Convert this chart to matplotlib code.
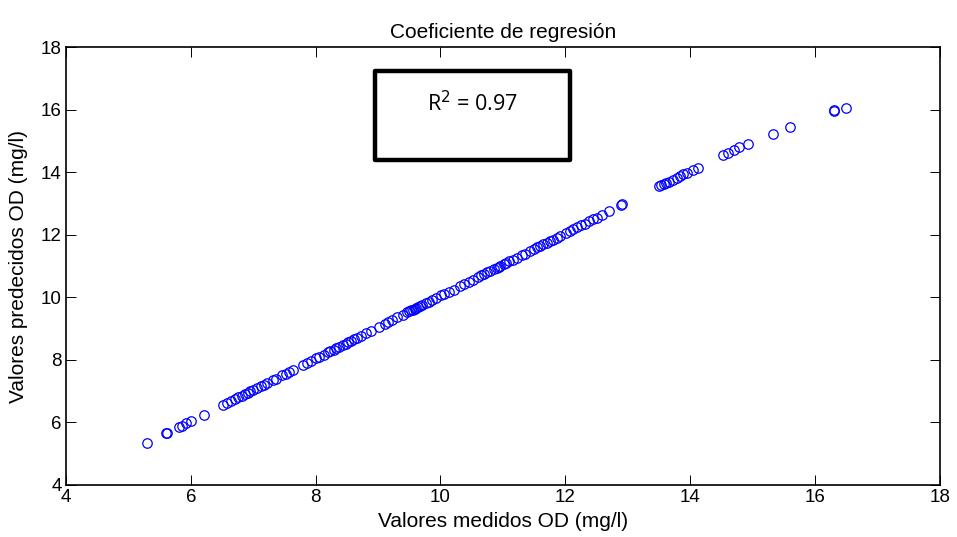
import matplotlib
matplotlib.use("Agg")
import matplotlib.pyplot as plt
from matplotlib.patches import Rectangle

plt.rcParams['font.family'] = ['Liberation Sans', 'DejaVu Sans']

medidos = [5.30, 5.60, 5.62, 5.81, 5.86, 5.92, 6.01, 6.21, 6.51, 6.58, 6.64, 6.70,
           6.76, 6.82, 6.86, 6.91, 6.95, 7.00, 7.06, 7.12, 7.17, 7.22, 7.31, 7.36,
           7.46, 7.52, 7.57, 7.63, 7.79, 7.86, 7.93, 8.01, 8.06, 8.13, 8.19, 8.23,
           8.29, 8.33, 8.38, 8.43, 8.48, 8.52, 8.56, 8.61, 8.66, 8.72, 8.81, 8.89,
           9.01, 9.11, 9.16, 9.23, 9.31, 9.40, 9.47, 9.50, 9.53, 9.56, 9.59, 9.61,
           9.64, 9.67, 9.71, 9.76, 9.81, 9.86, 9.93, 10.01, 10.06, 10.13, 10.21,
           10.31, 10.38, 10.46, 10.52, 10.60, 10.65, 10.70, 10.75, 10.80, 10.85,
           10.90, 10.93, 10.96, 11.01, 11.05, 11.10, 11.16, 11.22, 11.30, 11.36,
           11.43, 11.50, 11.55, 11.60, 11.65, 11.70, 11.75, 11.80, 11.86, 11.91,
           12.01, 12.08, 12.13, 12.19, 12.25, 12.31, 12.38, 12.45, 12.51, 12.58,
           12.70, 12.90, 12.91, 13.50, 13.54, 13.58, 13.62, 13.66, 13.72, 13.79,
           13.84, 13.89, 13.95, 14.05, 14.12, 14.52, 14.61, 14.70, 14.79, 14.92,
           15.32, 15.60, 16.30, 16.31, 16.50]
predichos = [5.33, 5.66, 5.65, 5.86, 5.90, 5.99, 6.06, 6.24, 6.56, 6.61, 6.67, 6.74,
             6.80, 6.86, 6.90, 6.94, 7.00, 7.03, 7.10, 7.16, 7.20, 7.27, 7.35, 7.40,
             7.50, 7.55, 7.60, 7.66, 7.84, 7.90, 7.97, 8.06, 8.10, 8.17, 8.24, 8.27,
             8.33, 8.38, 8.42, 8.48, 8.52, 8.57, 8.60, 8.66, 8.70, 8.77, 8.86, 8.93,
             9.06, 9.16, 9.20, 9.28, 9.36, 9.44, 9.52, 9.55, 9.58, 9.60, 9.64, 9.66,
             9.69, 9.72, 9.76, 9.81, 9.85, 9.91, 9.98, 10.06, 10.10, 10.18, 10.25,
             10.36, 10.43, 10.50, 10.57, 10.65, 10.70, 10.74, 10.80, 10.85, 10.90,
             10.95, 10.98, 11.00, 11.06, 11.10, 11.15, 11.20, 11.27, 11.35, 11.40,
             11.48, 11.55, 11.60, 11.65, 11.70, 11.74, 11.80, 11.85, 11.90, 11.96,
             12.06, 12.12, 12.18, 12.24, 12.30, 12.35, 12.43, 12.50, 12.55, 12.63,
             12.75, 12.95, 12.98, 13.55, 13.59, 13.62, 13.67, 13.70, 13.76, 13.83,
             13.88, 13.93, 13.99, 14.08, 14.14, 14.54, 14.63, 14.72, 14.80, 14.90,
             15.22, 15.46, 15.95, 15.98, 16.07]

x_ticks = [4, 6, 8, 10, 12, 14, 16, 18]
y_ticks = [4, 6, 8, 10, 12, 14, 16, 18]

fig = plt.figure(figsize=(9.57, 5.37), dpi=100)
ax = fig.add_axes([0.069, 0.097, 0.913, 0.815])

ax.plot(medidos, predichos, 'o', mfc='none', mec='#0000ff', mew=0.9, ms=6.8)

ax.set_xlim(4, 18)
ax.set_ylim(4, 18)
ax.set_xticks(x_ticks)
ax.set_yticks(y_ticks)
ax.tick_params(direction='in', top=True, right=True, labelsize=13.5, length=7,
               width=0.7, pad=3)
for s in ax.spines.values():
    s.set_linewidth(1.2)

ax.set_title('Coeficiente de regresión', fontsize=15, pad=7)
ax.set_xlabel('Valores medidos OD (mg/l)', fontsize=15, labelpad=4)
ax.set_ylabel('Valores predecidos OD (mg/l)', fontsize=15, labelpad=9)

# R^2 box
ax.add_patch(Rectangle((8.95, 14.39), 3.12, 2.84, fill=False, lw=3.2, ec='black',
                       joinstyle='round', zorder=5))
ax.text(10.51, 16.2, 'R$^2$ = 0.97', ha='center', va='center', fontsize=15.5,
        family=['Open Sans', 'DejaVu Sans'])

fig.savefig('out.png', dpi=100)
